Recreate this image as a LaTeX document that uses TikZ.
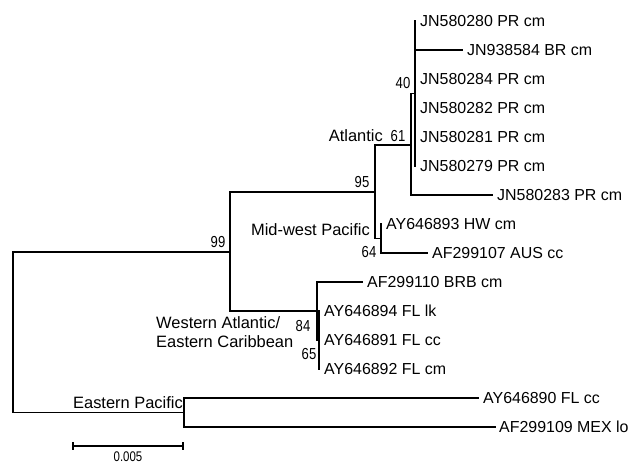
\documentclass[tikz,border=0pt]{standalone}
\usepackage{fontspec}
\setmainfont{Liberation Sans}
\newcommand\narrowtxt[1]{\scalebox{0.82}[1]{#1}}
\tikzset{
  br/.style={line width=1.3bp, black, line cap=rect},
  tip/.style={font=\fontsize{16}{18}\selectfont, anchor=west, inner xsep=5bp, inner ysep=0pt, text height=11.5bp, text depth=0pt},
  clade/.style={font=\fontsize{16.5}{19.5}\selectfont, inner sep=0pt},
  bsv/.style={font=\fontsize{16}{18}\selectfont, inner sep=0pt},
}
\begin{document}
\begin{tikzpicture}[x=1bp,y=-1bp]
\useasboundingbox[fill=white] (0,0) rectangle (630,464);
% internal nodes
\coordinate (root) at (13,332.5);
\coordinate (n99) at (230,252);
\coordinate (n95) at (375,192);
\coordinate (n61) at (411,145);
\coordinate (n40) at (415,93.5);
\coordinate (nMW) at (381,238.5);
\coordinate (nWA) at (317,311);
\coordinate (n65) at (319,340);
\coordinate (nEP) at (184,412.5);
% tips
\node[tip] (t1) at (415,21) {JN580280 PR cm};
\node[tip] (t2) at (462,50) {JN938584 BR cm};
\node[tip] (t3) at (415,79) {JN580284 PR cm};
\node[tip] (t4) at (415,108) {JN580282 PR cm};
\node[tip] (t5) at (415,137) {JN580281 PR cm};
\node[tip] (t6) at (415,166) {JN580279 PR cm};
\node[tip] (t7) at (492,195) {JN580283 PR cm};
\node[tip] (t8) at (381,224) {AY646893 HW cm};
\node[tip] (t9) at (427,253) {AF299107 AUS cc};
\node[tip] (t10) at (362,282) {AF299110 BRB cm};
\node[tip] (t11) at (319,311) {AY646894 FL lk};
\node[tip] (t12) at (319,340) {AY646891 FL cc};
\node[tip] (t13) at (319,369) {AY646892 FL cm};
\node[tip] (t14) at (478,398) {AY646890 FL cc};
\node[tip, inner xsep=4bp] (t15) at (495,427) {AF299109 MEX lo};
% branches
\draw[br] (root) |- (n99);
\draw[br] (root) |- (nEP);
\draw[br] (n99) |- (n95);
\draw[br] (n99) |- (nWA);
\draw[br] (n95) |- (n61);
\draw[br] (n95) |- (nMW);
\draw[br] (n61) |- (n40);
\draw[br] (n61) |- (t7.west);
\foreach \t in {t1,t2,t3,t4,t5,t6} \draw[br] (n40) |- (\t.west);
\draw[br] (nMW) |- (t8.west);
\draw[br] (nMW) |- (t9.west);
\draw[br] (nWA) |- (t10.west);
\draw[br] (nWA) |- (n65);
\foreach \t in {t11,t12,t13} \draw[br] (n65) |- (\t.west);
\draw[br] (nEP) |- (t14.west);
\draw[br] (nEP) |- (t15.west);
% bootstrap values
\node[bsv] (b99) at (218,242) {\narrowtxt{99}};
\node[bsv] (b95) at (362,182) {\narrowtxt{95}};
\node[bsv] (b61) at (398,136) {\narrowtxt{61}};
\node[bsv] (b40) at (403,83) {\narrowtxt{40}};
\node[bsv] (b64) at (369,252) {\narrowtxt{64}};
\node[bsv] (b84) at (303,326) {\narrowtxt{84}};
\node[bsv] (b65) at (309,354) {\narrowtxt{65}};
% clade labels
\node[clade, anchor=east] (cA) at (383,136) {Atlantic};
\node[clade, anchor=east] (cM) at (370,230) {Mid-west Pacific};
\node[clade, anchor=north west, align=left] (cW) at (156,316) {Western Atlantic/\\Eastern Caribbean};
\node[clade, anchor=east] (cE) at (183,403) {Eastern Pacific};
% scale bar
\coordinate (s1) at (73,446);
\coordinate (s2) at (183,446);
\draw[line width=1.3bp] (s1) -- (s2);
\draw[line width=1.3bp] ([yshift=4bp]s1) -- ([yshift=-4bp]s1);
\draw[line width=1.3bp] ([yshift=4bp]s2) -- ([yshift=-4bp]s2);
\node[font=\fontsize{14}{16}\selectfont, inner sep=0pt] (sl) at (128,457) {\narrowtxt{0.005}};
\end{tikzpicture}
\end{document}
